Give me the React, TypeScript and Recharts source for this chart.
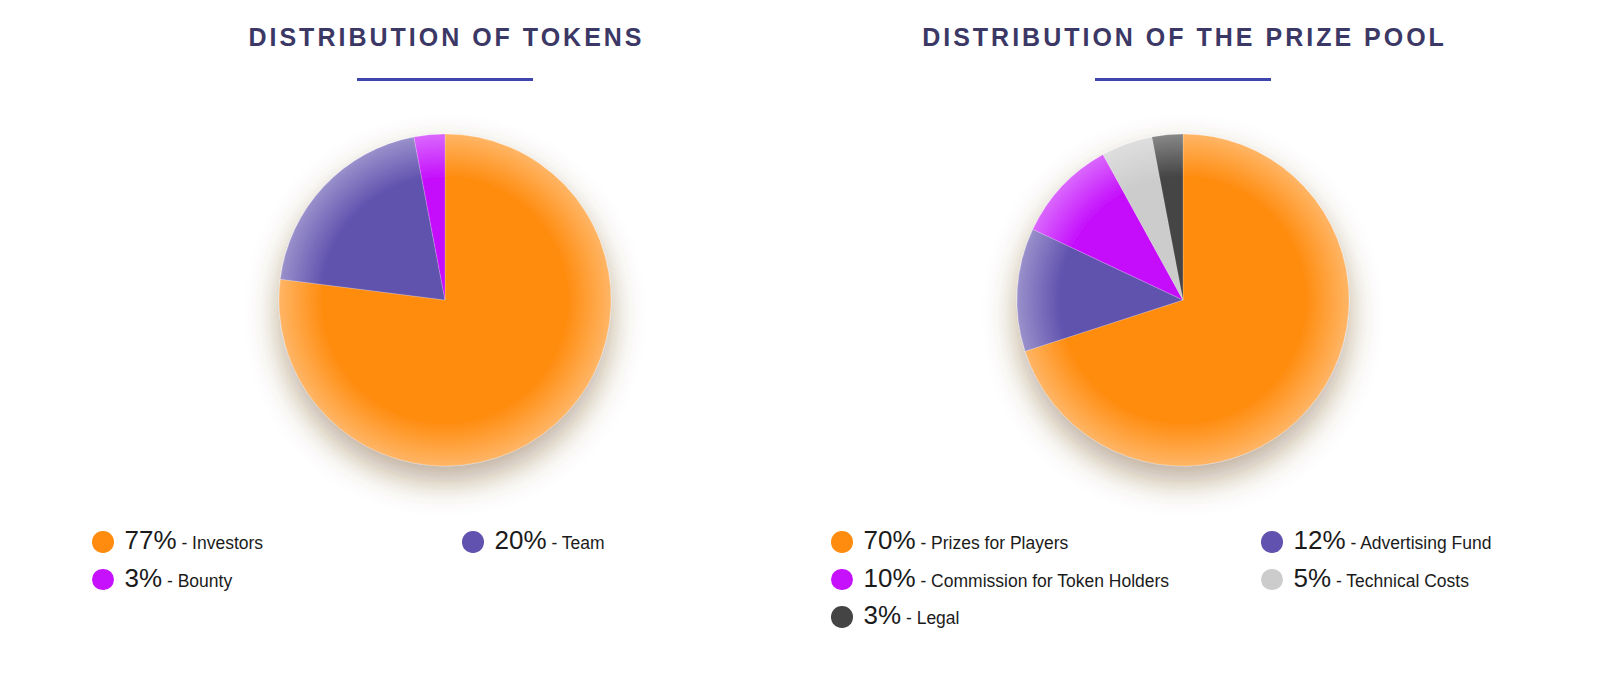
import React from 'react';
import { PieChart, Pie, Cell, Legend } from 'recharts';

// ---- data ----
const tokenLabels = ['Investors', 'Team', 'Bounty'];
const tokenValues = [77, 20, 3];
const tokenColors = ['#ff8c0f', '#6052ae', '#c511fc'];

const prizeLabels = [
  'Prizes for Players',
  'Advertising Fund',
  'Commission for Token Holders',
  'Technical Costs',
  'Legal',
];
const prizeValues = [70, 12, 10, 5, 3];
const prizeColors = ['#ff8c0f', '#6052ae', '#c511fc', '#cccccc', '#444444'];

const titles = ['DISTRIBUTION OF TOKENS', 'DISTRIBUTION OF THE PRIZE POOL'];

// ---- layout ----
const W = 738;
const H = 650;
const CX = 369;
const CY = 292;
const R = 166;
const FONT = "'Liberation Sans', Arial, sans-serif";

function mix(hex: string, amt: number): string {
  const n = parseInt(hex.slice(1), 16);
  const r = (n >> 16) & 255;
  const g = (n >> 8) & 255;
  const b = n & 255;
  const m = (c: number) => Math.round(c + (255 - c) * amt);
  return `rgb(${m(r)},${m(g)},${m(b)})`;
}

type ChartProps = {
  id: string;
  title: string;
  labels: string[];
  values: number[];
  colors: string[];
  cols: string;
  padLeft: number;
};

function DistChart({ id, title, labels, values, colors, cols, padLeft }: ChartProps) {
  const data = labels.map((name, i) => ({ name, value: values[i] }));

  const renderLegend = () => (
    <div
      style={{
        display: 'grid',
        gridTemplateColumns: cols,
        paddingLeft: padLeft,
        fontFamily: FONT,
      }}
    >
      {data.map((d, i) => (
        <div key={d.name} style={{ display: 'flex', alignItems: 'center', height: 37.5 }}>
          <span
            style={{
              width: 21.5,
              height: 21.5,
              borderRadius: '50%',
              background: colors[i],
              marginRight: 11,
              flexShrink: 0,
            }}
          />
          <span style={{ fontSize: 26, lineHeight: '26px', color: '#1b1b1b', whiteSpace: 'nowrap' }}>
            {d.value}%<span style={{ fontSize: 17.5 }}> - {d.name}</span>
          </span>
        </div>
      ))}
    </div>
  );

  return (
    <div id={`wrap-${id}`} style={{ position: 'relative', width: W, height: H, flexShrink: 0 }}>
      <div style={{ position: 'absolute', top: 0, left: 0 }}>
        <PieChart width={W} height={H} margin={{ top: 0, right: 0, bottom: 0, left: 0 }}>
          <defs>
            <filter id={`shadow-${id}`} x="-40%" y="-40%" width="180%" height="190%">
              <feDropShadow dx="0" dy="15" stdDeviation="16" floodColor="#6b4718" floodOpacity="0.45" />
            </filter>
            {colors.map((c, i) => (
              <radialGradient
                key={i}
                id={`grad-${id}-${i}`}
                gradientUnits="userSpaceOnUse"
                cx={CX}
                cy={CY}
                r={R}
              >
                <stop offset="0" stopColor={c} />
                <stop offset="0.74" stopColor={c} />
                <stop offset="1" stopColor={mix(c, 0.36)} />
              </radialGradient>
            ))}
          </defs>
          <Pie
            data={data}
            dataKey="value"
            nameKey="name"
            cx={CX}
            cy={CY}
            outerRadius={R}
            startAngle={90}
            endAngle={-270}
            stroke="#ffffff"
            strokeWidth={0.5}
            strokeOpacity={0.4}
            isAnimationActive={false}
          >
            {data.map((d, i) => (
              <Cell key={d.name} fill={`url(#grad-${id}-${i})`} />
            ))}
          </Pie>
          <Legend
            verticalAlign="bottom"
            wrapperStyle={{ top: 515, bottom: 'auto', left: 0, width: W }}
            content={renderLegend}
          />
        </PieChart>
      </div>
      <div
        style={{
          position: 'absolute',
          top: 17,
          left: 0,
          width: W,
          boxSizing: 'border-box',
          paddingLeft: 3,
          textAlign: 'center',
          fontFamily: FONT,
          fontSize: 25,
          lineHeight: '25px',
          fontWeight: 700,
          letterSpacing: 3,
          color: '#3c3865',
          whiteSpace: 'nowrap',
        }}
      >
        {title}
      </div>
      <div
        style={{
          position: 'absolute',
          top: 70,
          left: W / 2 - 88,
          width: 176,
          height: 3,
          background: '#3e46ae',
        }}
      />
    </div>
  );
}

export default function App() {
  return (
    <div style={{ display: 'flex', marginLeft: 68, width: W * 2, fontFamily: FONT }}>
      <style>{`
        #wrap-tokens .recharts-pie { filter: url(#shadow-tokens); }
        #wrap-prize .recharts-pie { filter: url(#shadow-prize); }
      `}</style>
      <DistChart
        id="tokens"
        title={titles[0]}
        labels={tokenLabels}
        values={tokenValues}
        colors={tokenColors}
        cols="370px auto"
        padLeft={16}
      />
      <DistChart
        id="prize"
        title={titles[1]}
        labels={prizeLabels}
        values={prizeValues}
        colors={prizeColors}
        cols="430px auto"
        padLeft={17}
      />
    </div>
  );
}
